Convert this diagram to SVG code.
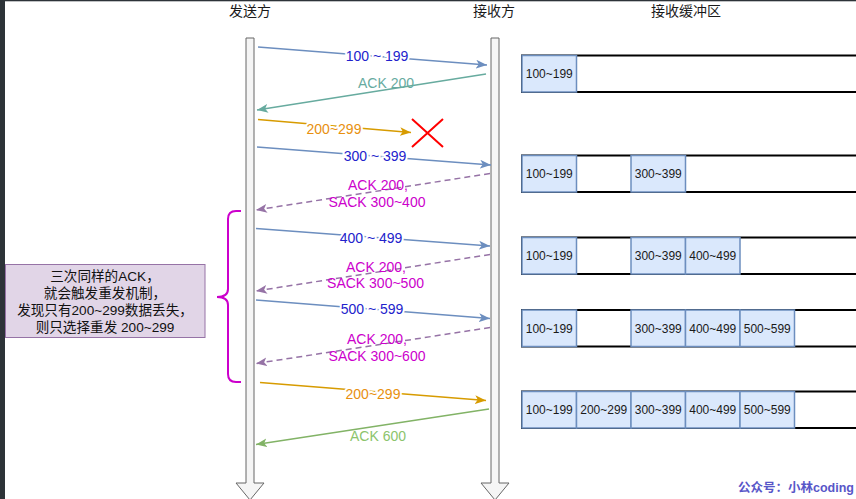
<svg xmlns="http://www.w3.org/2000/svg" width="856" height="499" viewBox="0 0 856 499">
<style>
text{font-family:"Liberation Sans","Noto Sans CJK SC",sans-serif}
.hdr{font-size:14px;fill:#1a1a1a;text-anchor:middle}
.lbl{font-size:14px;text-anchor:middle}
.bg{stroke:#fff;stroke-width:4px;paint-order:stroke}
.blue{fill:#2222cc}.teal{fill:#67ab9f}.orange{fill:#e8900f}.mag{fill:#cc00cc}.green{fill:#8cc46c}
.life{fill:#f5f5f5;stroke:#666;stroke-width:1}
.ln{fill:none;stroke-width:1.5}
.dash{stroke-dasharray:6 4}
.buf{fill:#fff;stroke:#000;stroke-width:2}
.cell{fill:#dae8fc;stroke:#6c8ebf;stroke-width:1.5}
.ct{font-size:12px;fill:#1a1a1a;text-anchor:middle}
.note{fill:#e1d5e7;stroke:#9673a6;stroke-width:1}
.nt{font-size:13.6px;fill:#111;text-anchor:middle}
</style>
<defs>
<marker id="aBlue" viewBox="0 0 10 8" refX="10" refY="4" markerWidth="11" markerHeight="9" markerUnits="userSpaceOnUse" orient="auto"><path d="M0,0 L10,4 L0,8 L2.5,4 Z" fill="#6c8ebf"/></marker>
<marker id="aTeal" viewBox="0 0 10 8" refX="10" refY="4" markerWidth="11" markerHeight="9" markerUnits="userSpaceOnUse" orient="auto"><path d="M0,0 L10,4 L0,8 L2.5,4 Z" fill="#67ab9f"/></marker>
<marker id="aOrange" viewBox="0 0 10 8" refX="10" refY="4" markerWidth="11" markerHeight="9" markerUnits="userSpaceOnUse" orient="auto"><path d="M0,0 L10,4 L0,8 L2.5,4 Z" fill="#d79b00"/></marker>
<marker id="aPurple" viewBox="0 0 10 8" refX="10" refY="4" markerWidth="11" markerHeight="9" markerUnits="userSpaceOnUse" orient="auto"><path d="M0,0 L10,4 L0,8 L2.5,4 Z" fill="#9673a6"/></marker>
<marker id="aGreen" viewBox="0 0 10 8" refX="10" refY="4" markerWidth="11" markerHeight="9" markerUnits="userSpaceOnUse" orient="auto"><path d="M0,0 L10,4 L0,8 L2.5,4 Z" fill="#82b366"/></marker>
</defs>
<rect x="0" y="0" width="856" height="499" fill="#fff"/>
<rect x="0" y="0" width="856" height="1.3" fill="#2d3338"/>
<rect x="0" y="0" width="5" height="499" fill="#2d3338"/>

<g id="sender-header"><text class="hdr" x="250" y="16">发送方</text></g>
<g id="receiver-header"><text class="hdr" x="494" y="16">接收方</text></g>
<g id="buffer-header"><text class="hdr" x="686" y="16">接收缓冲区</text></g>

<g id="sender-lifeline"><path class="life" d="M246,38 H254 V483 H264 L250,500 L236,483 H246 Z"/></g>
<g id="receiver-lifeline"><path class="life" d="M491,38 H499 V483 H509 L495,500 L481,483 H491 Z"/></g>

<g id="connectors">
<line class="ln" stroke="#6c8ebf" x1="258" y1="47" x2="487" y2="65" marker-end="url(#aBlue)"/>
<line class="ln" stroke="#67ab9f" x1="486" y1="74" x2="257" y2="110" marker-end="url(#aTeal)"/>
<line class="ln" stroke="#d79b00" x1="258" y1="119.5" x2="411" y2="132.5" marker-end="url(#aOrange)"/>
<line class="ln" stroke="#6c8ebf" x1="257" y1="147" x2="491" y2="165" marker-end="url(#aBlue)"/>
<line class="ln dash" stroke="#9673a6" x1="490" y1="173.5" x2="256" y2="210" marker-end="url(#aPurple)"/>
<line class="ln" stroke="#6c8ebf" x1="256" y1="228.5" x2="490" y2="246" marker-end="url(#aBlue)"/>
<line class="ln dash" stroke="#9673a6" x1="490" y1="254.5" x2="256" y2="291" marker-end="url(#aPurple)"/>
<line class="ln" stroke="#6c8ebf" x1="256" y1="300" x2="490" y2="318.5" marker-end="url(#aBlue)"/>
<line class="ln dash" stroke="#9673a6" x1="490" y1="327.5" x2="256" y2="363.5" marker-end="url(#aPurple)"/>
<line class="ln" stroke="#d79b00" x1="260" y1="382.5" x2="486" y2="400.5" marker-end="url(#aOrange)"/>
<line class="ln" stroke="#82b366" x1="489" y1="409" x2="256" y2="444.5" marker-end="url(#aGreen)"/>
</g>

<g id="connector-labels">
<text class="lbl blue bg" x="377" y="61">100 ~ 199</text>
<text class="lbl teal" x="386" y="88">ACK 200</text>
<text class="lbl orange bg" x="334" y="134">200~299</text>
<text class="lbl blue bg" x="375" y="161">300 ~ 399</text>
<text class="lbl mag" x="378" y="190">ACK 200,</text>
<text class="lbl mag" x="377" y="206.5">SACK 300~400</text>
<text class="lbl blue bg" x="371" y="242.5">400 ~ 499</text>
<text class="lbl mag" x="376" y="271.5">ACK 200,</text>
<text class="lbl mag" x="375.5" y="288">SACK 300~500</text>
<text class="lbl blue bg" x="372" y="314">500 ~ 599</text>
<text class="lbl mag" x="377" y="344">ACK 200,</text>
<text class="lbl mag" x="377" y="360.5">SACK 300~600</text>
<text class="lbl orange bg" x="373" y="399">200~299</text>
<text class="lbl green" x="378" y="440.5">ACK 600</text>
</g>

<g id="lost-mark">
<path d="M412,119 L443,147 M443,119 L412,147" stroke="#ff0000" stroke-width="2" fill="none"/>
</g>

<g id="brace">
<path d="M241,211 H236 Q228,211 228,219 V289 Q228,297 217,297 Q228,297 228,305 V374 Q228,382 236,382 H241" fill="none" stroke="#cc00cc" stroke-width="2"/>
</g>

<g id="note">
<rect class="note" x="5.5" y="264.5" width="199.5" height="73"/>
<text class="nt" x="105" y="280.5">三次同样的ACK，</text>
<text class="nt" x="105" y="297.5">就会触发重发机制，</text>
<text class="nt" x="105" y="314.5">发现只有200~299数据丢失，</text>
<text class="nt" x="105" y="331.5">则只选择重发 200~299</text>
</g>

<g id="buffer-1">
<rect class="buf" x="522" y="55.5" width="350" height="36.5"/>
<rect class="cell" x="522" y="55.5" width="54.5" height="36.5"/><text class="ct" x="549.25" y="78">100~199</text>
</g>
<g id="buffer-2">
<rect class="buf" x="522" y="155.5" width="350" height="36.5"/>
<rect class="cell" x="522" y="155.5" width="54.5" height="36.5"/><text class="ct" x="549.25" y="178">100~199</text>
<rect class="cell" x="631" y="155.5" width="54.5" height="36.5"/><text class="ct" x="658.25" y="178">300~399</text>
</g>
<g id="buffer-3">
<rect class="buf" x="522" y="237.5" width="350" height="36.5"/>
<rect class="cell" x="522" y="237.5" width="54.5" height="36.5"/><text class="ct" x="549.25" y="260">100~199</text>
<rect class="cell" x="631" y="237.5" width="54.5" height="36.5"/><text class="ct" x="658.25" y="260">300~399</text>
<rect class="cell" x="685.5" y="237.5" width="54.5" height="36.5"/><text class="ct" x="712.75" y="260">400~499</text>
</g>
<g id="buffer-4">
<rect class="buf" x="522" y="310" width="350" height="36.5"/>
<rect class="cell" x="522" y="310" width="54.5" height="36.5"/><text class="ct" x="549.25" y="332.5">100~199</text>
<rect class="cell" x="631" y="310" width="54.5" height="36.5"/><text class="ct" x="658.25" y="332.5">300~399</text>
<rect class="cell" x="685.5" y="310" width="54.5" height="36.5"/><text class="ct" x="712.75" y="332.5">400~499</text>
<rect class="cell" x="740" y="310" width="54.5" height="36.5"/><text class="ct" x="767.25" y="332.5">500~599</text>
</g>
<g id="buffer-5">
<rect class="buf" x="522" y="391.5" width="350" height="36.5"/>
<rect class="cell" x="522" y="391.5" width="54.5" height="36.5"/><text class="ct" x="549.25" y="414">100~199</text>
<rect class="cell" x="576.5" y="391.5" width="54.5" height="36.5"/><text class="ct" x="603.75" y="414">200~299</text>
<rect class="cell" x="631" y="391.5" width="54.5" height="36.5"/><text class="ct" x="658.25" y="414">300~399</text>
<rect class="cell" x="685.5" y="391.5" width="54.5" height="36.5"/><text class="ct" x="712.75" y="414">400~499</text>
<rect class="cell" x="740" y="391.5" width="54.5" height="36.5"/><text class="ct" x="767.25" y="414">500~599</text>
</g>

<g id="watermark"><text x="738" y="491.5" font-size="12.5" font-weight="bold" fill="#5856c8">公众号：小林coding</text></g>
</svg>
